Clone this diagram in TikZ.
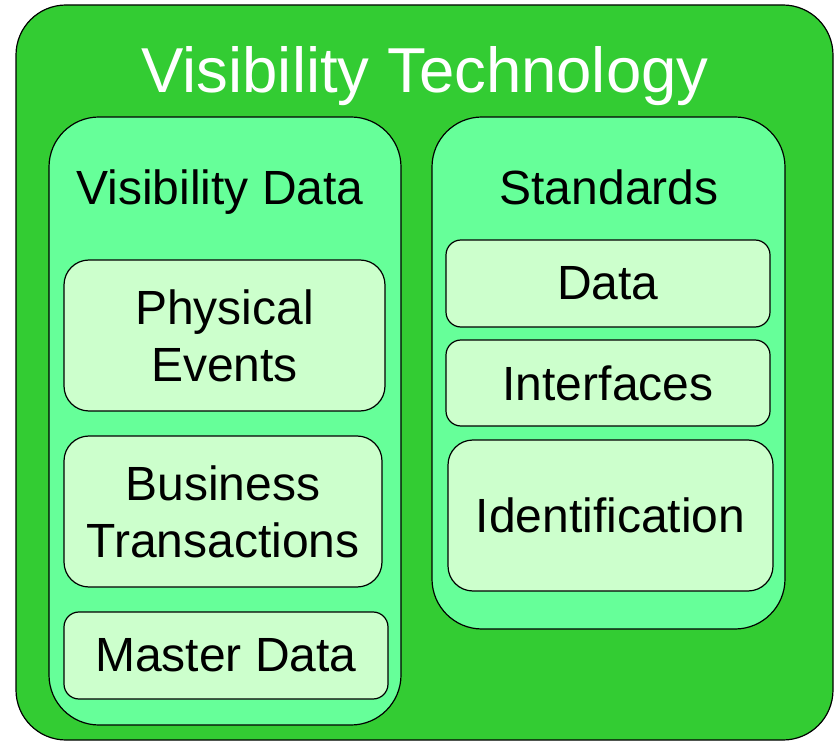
\documentclass[tikz,border=0pt]{standalone}
\usepackage{fontspec}
\setmainfont{Liberation Sans}
\usepackage{tikz}
\usepackage{color}
\definecolor{techgreen}{HTML}{33CC33}
\definecolor{groupgreen}{HTML}{66FF99}
\definecolor{itemgreen}{HTML}{CCFFCC}
\tikzset{
	panel/.style={draw=black, line width=1.2pt, rounded corners=#1, inner sep=0pt},
	techbox/.style={panel=50pt, fill=techgreen},
	groupbox/.style={panel=50pt, fill=groupgreen},
	itembox/.style={panel=#1, fill=itemgreen, align=center, font=\fontsize{48}{57}\selectfont},
	grouplabel/.style={anchor=base, inner sep=0pt, font=\fontsize{48}{57}\selectfont}
}
\begin{document}
\begin{tikzpicture}[x=1pt, y=-1pt]
			\useasboundingbox (0,0) rectangle (836,743);
			\node[techbox, minimum width=817pt, minimum height=735pt] (tech) at (424.5,372.5) {};
			\node[anchor=base, inner sep=0pt, text=white, font=\fontsize{63.5}{70}\selectfont] (techlabel) at (425,93) {Visibility Technology};
			\node[groupbox, minimum width=352pt, minimum height=608pt] (visdata) at (225,421) {};
			\node[groupbox, minimum width=353pt, minimum height=512pt] (standards) at (608.5,373) {};
			\node[grouplabel] (visdatalabel) at (220,205) {Visibility Data};
			\node[grouplabel] (standardslabel) at (609,205) {Standards};
			\node[itembox=25pt, minimum width=321pt, minimum height=151pt] (physical) at (224.5,335.5) {Physical\\Events};
			\node[itembox=25pt, minimum width=318pt, minimum height=151pt] (business) at (223,511.5) {Business\\Transactions};
			\node[itembox=15pt, minimum width=324pt, minimum height=87pt] (master) at (226,655.5) {Master Data};
			\node[itembox=15pt, minimum width=324pt, minimum height=87pt] (data) at (608,283.5) {Data};
			\node[itembox=15pt, minimum width=324pt, minimum height=86pt] (interfaces) at (608,383) {Interfaces};
			\node[itembox=25pt, minimum width=325pt, minimum height=151pt] (identification) at (610.5,515.5) {Identification};
		\end{tikzpicture}
\end{document}
